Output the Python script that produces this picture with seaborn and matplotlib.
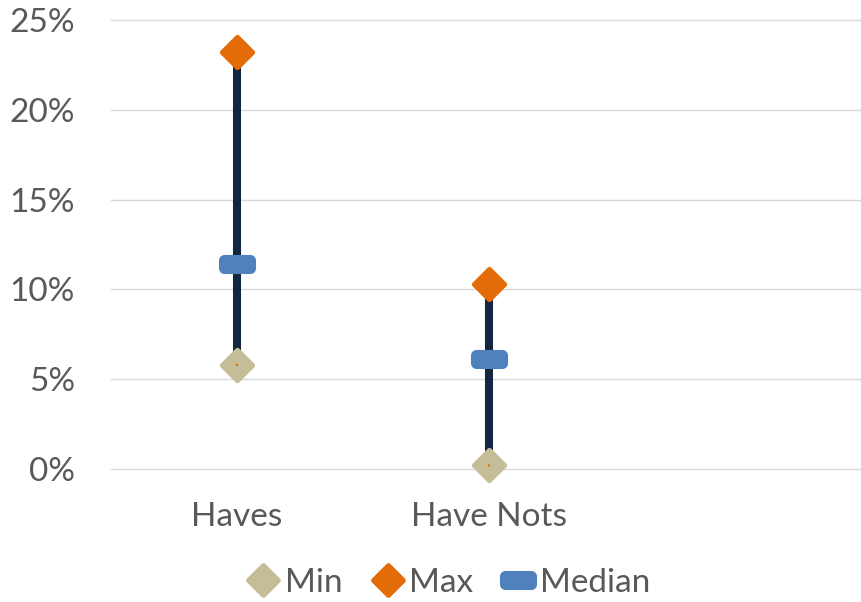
import numpy as np
import pandas as pd
import matplotlib
matplotlib.use("Agg")
import matplotlib.pyplot as plt
from matplotlib.markers import MarkerStyle
from matplotlib.path import Path
from matplotlib.lines import Line2D
import seaborn as sns

# Data (percent)
categories = ["Haves", "Have Nots", " "]
min_vals = [5.8, 0.2, np.nan]
max_vals = [23.2, 10.3, np.nan]
median_vals = [11.4, 6.1, np.nan]
y_ticks = [0, 5, 10, 15, 20, 25]

sns.set_theme(style="white")
plt.rcParams["font.family"] = ["Lato", "DejaVu Sans"]

C_MIN = "#C4BD97"
C_MAX = "#E36C09"
C_MED = "#4F81BD"
C_LINE = "#132640"
C_TEXT = "#595959"
C_GRID = "#D9D9D9"

df = pd.DataFrame({"cat": categories, "Min": min_vals, "Max": max_vals, "Median": median_vals})

fig = plt.figure(figsize=(8.62, 6.02), dpi=100)
ax = fig.add_axes([111 / 862, 1 - 469 / 602, 1 - 111 / 862, 449 / 602])

# Rounded diamond and rounded bar markers
diamond = MarkerStyle("D", joinstyle="round")
bar_verts = [(-1, -0.28), (1, -0.28), (1, 0.28), (-1, 0.28), (-1, -0.28)]
bar_path = Path(bar_verts, [Path.MOVETO, Path.LINETO, Path.LINETO, Path.LINETO, Path.CLOSEPOLY])
bar_marker = MarkerStyle(bar_path, joinstyle="round")

D_SIZE = 15.5
D_EDGE = 3.5
B_SIZE = 19
B_EDGE = 8

x_pos = np.arange(len(categories))
valid = ~df["Min"].isna()

# range lines
ax.vlines(x_pos[valid], df["Min"][valid], df["Max"][valid], color=C_LINE, linewidth=5.8, zorder=2)

sns.scatterplot(data=df, x="cat", y="Min", ax=ax, marker=diamond, s=D_SIZE ** 2,
                color=C_MIN, edgecolor=C_MIN, linewidth=D_EDGE, zorder=3, legend=False, clip_on=False)
sns.scatterplot(data=df, x="cat", y="Min", ax=ax, marker="o", s=3,
                color=C_MAX, edgecolor="none", linewidth=0, zorder=4, legend=False, clip_on=False)
sns.scatterplot(data=df, x="cat", y="Max", ax=ax, marker=diamond, s=D_SIZE ** 2,
                color=C_MAX, edgecolor=C_MAX, linewidth=D_EDGE, zorder=3, legend=False)
sns.scatterplot(data=df, x="cat", y="Median", ax=ax, marker=bar_marker, s=B_SIZE ** 2,
                color=C_MED, edgecolor=C_MED, linewidth=B_EDGE, zorder=3, legend=False)

ax.set_xlim(-0.5, 2.48)
ax.set_ylim(0, 25)
ax.set_yticks(y_ticks)
ax.set_yticklabels([f"{t}%" for t in y_ticks])
ax.set_xlabel("")
ax.set_ylabel("")
ax.grid(axis="y", color=C_GRID, linewidth=1)
for gl in ax.get_ygridlines():
    gl.set_clip_on(False)
ax.set_axisbelow(True)
for s in ax.spines.values():
    s.set_visible(False)
ax.tick_params(axis="both", length=0, labelsize=24, labelcolor=C_TEXT)
ax.tick_params(axis="y", pad=26)
ax.tick_params(axis="x", pad=24)

handles = [
    Line2D([], [], linestyle="none", marker=diamond, markersize=D_SIZE, color=C_MIN, markeredgewidth=D_EDGE),
    Line2D([], [], linestyle="none", marker=diamond, markersize=D_SIZE, color=C_MAX, markeredgewidth=D_EDGE),
    Line2D([], [], linestyle="none", marker=bar_marker, markersize=B_SIZE, color=C_MED, markeredgewidth=B_EDGE),
]
fig.legend(handles, ["Min", "Max", "Median"], loc="center", bbox_to_anchor=(446 / 862, 1 - 583 / 602),
           ncol=3, frameon=False, fontsize=24, labelcolor=C_TEXT, handletextpad=0.0,
           columnspacing=0.7, handlelength=1.3)

fig.savefig("out.png", dpi=100)
